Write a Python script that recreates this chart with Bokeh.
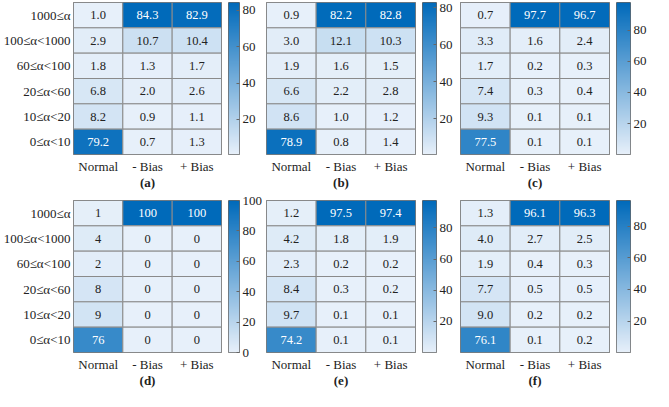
import numpy as np
from bokeh.plotting import figure
from bokeh.models import (ColumnDataSource, LinearColorMapper, FixedTicker, Range1d)
from bokeh.layouts import gridplot
from bokeh.core.properties import value
from bokeh.transform import transform
from bokeh.embed import file_html
from bokeh.resources import INLINE

# ---- data (rows listed top to bottom) ----
rows = ["1000≤α", "100≤α<1000", "60≤α<100", "20≤α<60", "10≤α<20", "0≤α<10"]
cols = ["Normal", "- Bias", "+ Bias"]
tags = ["(a)", "(b)", "(c)", "(d)", "(e)", "(f)"]

a_normal = [1.0, 2.9, 1.8, 6.8, 8.2, 79.2]
a_minus = [84.3, 10.7, 1.3, 2.0, 0.9, 0.7]
a_plus = [82.9, 10.4, 1.7, 2.6, 1.1, 1.3]

b_normal = [0.9, 3.0, 1.9, 6.6, 8.6, 78.9]
b_minus = [82.2, 12.1, 1.6, 2.2, 1.0, 0.8]
b_plus = [82.8, 10.3, 1.5, 2.8, 1.2, 1.4]

c_normal = [0.7, 3.3, 1.7, 7.4, 9.3, 77.5]
c_minus = [97.7, 1.6, 0.2, 0.3, 0.1, 0.1]
c_plus = [96.7, 2.4, 0.3, 0.4, 0.1, 0.1]

d_normal = [1, 4, 2, 8, 9, 76]
d_minus = [100, 0, 0, 0, 0, 0]
d_plus = [100, 0, 0, 0, 0, 0]

e_normal = [1.2, 4.2, 2.3, 8.4, 9.7, 74.2]
e_minus = [97.5, 1.8, 0.2, 0.3, 0.1, 0.1]
e_plus = [97.4, 1.9, 0.2, 0.2, 0.1, 0.1]

f_normal = [1.3, 4.0, 1.9, 7.7, 9.0, 76.1]
f_minus = [96.1, 2.7, 0.4, 0.5, 0.2, 0.1]
f_plus = [96.3, 2.5, 0.3, 0.5, 0.2, 0.2]

cbar_ticks_default = [20, 40, 60, 80]
cbar_ticks_d = [0, 20, 40, 60, 80, 100]

panels = [
    (a_normal, a_minus, a_plus, "{:.1f}", cbar_ticks_default),
    (b_normal, b_minus, b_plus, "{:.1f}", cbar_ticks_default),
    (c_normal, c_minus, c_plus, "{:.1f}", cbar_ticks_default),
    (d_normal, d_minus, d_plus, "{:d}", cbar_ticks_d),
    (e_normal, e_minus, e_plus, "{:.1f}", cbar_ticks_default),
    (f_normal, f_minus, f_plus, "{:.1f}", cbar_ticks_default),
]

# ---- style ----
FONT = "Liberation Serif"
TXT = "#222222"
EDGE = "#666666"
low_rgb = (231, 240, 250)
high_rgb = (0, 106, 186)
palette = ["#%02x%02x%02x" % tuple(int(round(l + (h - l) * t)) for l, h in zip(low_rgb, high_rgb))
           for t in np.linspace(0, 1, 256)]

FRAME_W, FRAME_H = 149, 156
LEFT_FIRST, LEFT_OTHER, RIGHT_HEAT = 72, 1, 1
CB_GAP, CB_W, CB_RIGHT = 6, 14, 23
TOPS = [2, 8]
BOTTOM = 34

grid_rows = [[], []]
for i, (nrm, mns, pls, fmt, cticks) in enumerate(panels):
    xs, ys, vs = [], [], []
    for c, series in zip(cols, (nrm, mns, pls)):
        for r, v in zip(rows, series):
            xs.append(c)
            ys.append(r)
            vs.append(v)
    vmin, vmax = min(vs), max(vs)
    labels = [fmt.format(v) for v in vs]
    tcolors = ["white" if (v - vmin) / (vmax - vmin) > 0.6 else TXT for v in vs]
    src = ColumnDataSource(dict(x=xs, y=ys, v=vs, lab=labels, tc=tcolors))
    mapper = LinearColorMapper(palette=palette, low=vmin, high=vmax)

    first = (i % 3 == 0)
    top = TOPS[i // 3]
    left = LEFT_FIRST if first else LEFT_OTHER
    h = top + FRAME_H + BOTTOM

    # heatmap
    p = figure(x_range=cols, y_range=rows[::-1], width=left + FRAME_W + RIGHT_HEAT,
               height=h, output_backend="svg", toolbar_location=None,
               min_border_left=left, min_border_right=RIGHT_HEAT, min_border_top=top,
               min_border_bottom=BOTTOM)
    p.rect("x", "y", 1, 1, source=src, fill_color=transform("v", mapper),
           line_color="#8a8a8a", line_width=1)
    p.text("x", "y", text="lab", source=src, text_align="center", text_baseline="middle",
           text_color="tc", text_font=value(FONT), text_font_size="12.5px")
    p.outline_line_color = EDGE
    p.grid.visible = False

    p.xaxis.axis_line_color = None
    p.xaxis.major_tick_line_color = None
    p.xaxis.major_tick_out = 0
    p.xaxis.major_tick_in = 0
    p.xaxis.major_label_text_font = FONT
    p.xaxis.major_label_text_font_size = "13px"
    p.xaxis.major_label_text_color = TXT
    p.xaxis.major_label_standoff = 4
    p.xaxis.axis_label = tags[i]
    p.xaxis.axis_label_text_font = FONT
    p.xaxis.axis_label_text_font_size = "13px"
    p.xaxis.axis_label_text_font_style = "bold"
    p.xaxis.axis_label_text_color = TXT
    p.xaxis.axis_label_standoff = -2

    if first:
        p.yaxis.axis_line_color = None
        p.yaxis.major_tick_line_color = None
        p.yaxis.major_tick_out = 0
        p.yaxis.major_tick_in = 0
        p.yaxis.major_label_text_font = FONT
        p.yaxis.major_label_text_font_size = "13px"
        p.yaxis.major_label_text_color = TXT
        p.yaxis.major_label_standoff = 3
    else:
        p.yaxis.visible = False

    # colour bar as its own small figure
    cb = figure(x_range=Range1d(0, 1), y_range=Range1d(vmin, vmax),
                width=CB_GAP + CB_W + CB_RIGHT, height=h, y_axis_location="right",
                output_backend="svg", toolbar_location=None,
                min_border_left=CB_GAP, min_border_right=CB_RIGHT, min_border_top=top,
                min_border_bottom=BOTTOM)
    grad = np.linspace(vmin, vmax, 256).reshape(256, 1)
    cb.image(image=[grad], x=0, y=vmin, dw=1, dh=vmax - vmin, color_mapper=mapper)
    cb.outline_line_color = EDGE
    cb.grid.visible = False
    cb.xaxis.visible = False
    cb.yaxis.ticker = FixedTicker(ticks=cticks)
    cb.yaxis.axis_line_color = None
    cb.yaxis.major_tick_in = 3
    cb.yaxis.major_tick_out = 0
    cb.yaxis.major_tick_line_color = EDGE
    cb.yaxis.minor_tick_line_color = None
    cb.yaxis.major_label_standoff = 3
    cb.yaxis.major_label_text_font = FONT
    cb.yaxis.major_label_text_font_size = "13px"
    cb.yaxis.major_label_text_color = TXT

    grid_rows[i // 3].extend([p, cb])

grid = gridplot(grid_rows, toolbar_location=None)
open("out.html", "w").write(file_html(grid, INLINE))
